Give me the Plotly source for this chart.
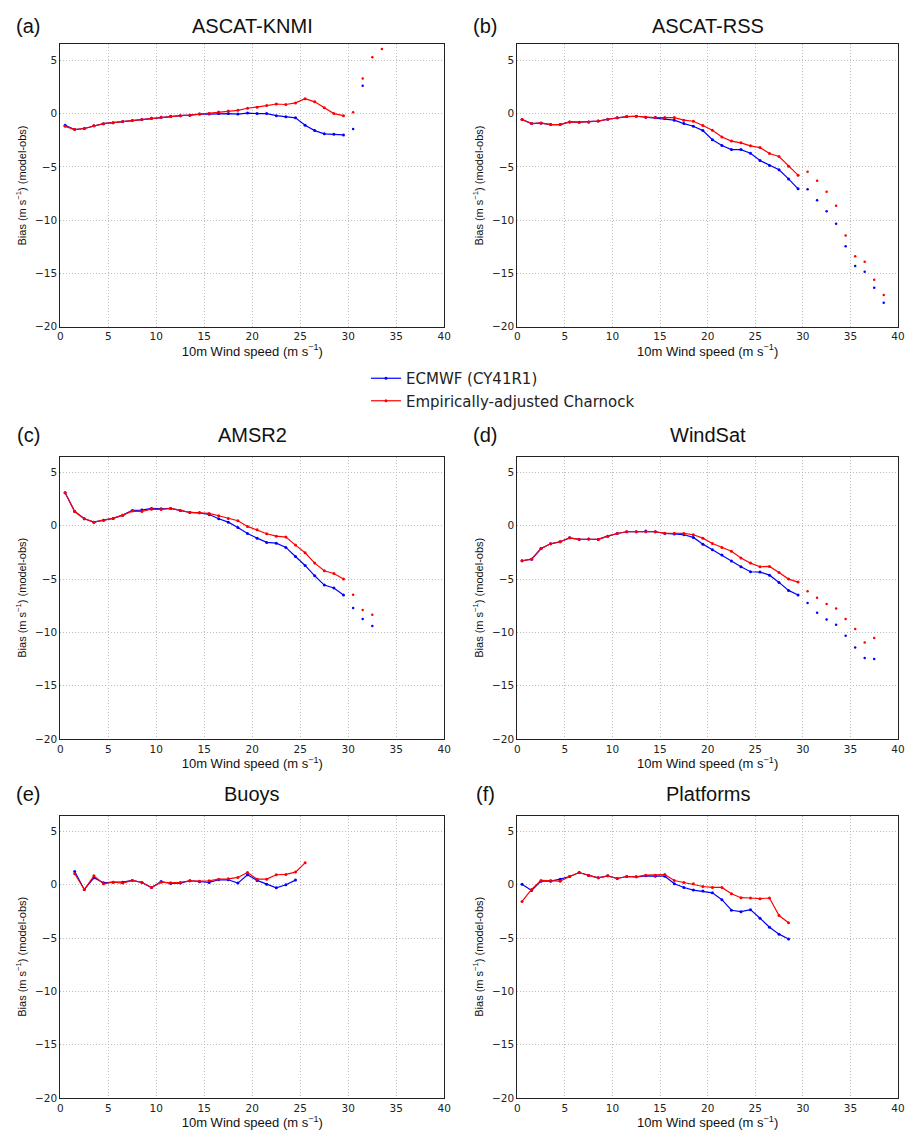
import plotly.graph_objects as go

# ---------------- data ----------------
wind_bins = [0.5, 1.5, 2.5, 3.5, 4.5, 5.5, 6.5, 7.5, 8.5, 9.5, 10.5, 11.5, 12.5, 13.5, 14.5,
             15.5, 16.5, 17.5, 18.5, 19.5, 20.5, 21.5, 22.5, 23.5, 24.5, 25.5, 26.5, 27.5, 28.5, 29.5]
wind_buoys = [1.5, 2.5, 3.5, 4.5, 5.5, 6.5, 7.5, 8.5, 9.5, 10.5, 11.5, 12.5, 13.5, 14.5,
              15.5, 16.5, 17.5, 18.5, 19.5, 20.5, 21.5, 22.5, 23.5, 24.5, 25.5]
wind_platforms = [0.5, 1.5, 2.5, 3.5, 4.5, 5.5, 6.5, 7.5, 8.5, 9.5, 10.5, 11.5, 12.5, 13.5, 14.5,
                  15.5, 16.5, 17.5, 18.5, 19.5, 20.5, 21.5, 22.5, 23.5, 24.5, 25.5, 26.5, 27.5, 28.5]

# (a) ASCAT-KNMI
knmi_ecmwf = [-1.1, -1.5, -1.4, -1.15, -0.95, -0.85, -0.75, -0.65, -0.55, -0.45, -0.35, -0.25, -0.2, -0.15,
              -0.05, -0.05, 0.0, 0.0, -0.05, 0.05, 0.0, 0.0, -0.2, -0.3, -0.4, -1.1, -1.6, -1.9, -1.95, -2.0]
knmi_charnock = [-1.2, -1.5, -1.4, -1.15, -0.95, -0.85, -0.75, -0.65, -0.55, -0.45, -0.35, -0.25, -0.2, -0.15,
                 -0.05, 0.0, 0.15, 0.25, 0.3, 0.5, 0.6, 0.75, 0.9, 0.85, 1.0, 1.4, 1.1, 0.55, 0.0, -0.2]
knmi_ecmwf_hi_x = [30.5, 31.5]
knmi_ecmwf_hi_y = [-1.45, 2.6]
knmi_charnock_hi_x = [30.5, 31.5, 32.5, 33.5]
knmi_charnock_hi_y = [0.12, 3.28, 5.28, 6.05]

# (b) ASCAT-RSS
rss_ecmwf = [-0.56, -0.94, -0.9, -1.03, -1.03, -0.78, -0.81, -0.78, -0.7, -0.53, -0.4, -0.28, -0.25, -0.34,
             -0.38, -0.47, -0.62, -0.94, -1.19, -1.6, -2.45, -3.0, -3.38, -3.38, -3.72, -4.41, -4.88, -5.28, -6.13, -7.06]
rss_charnock = [-0.56, -0.94, -0.88, -1.03, -1.03, -0.78, -0.81, -0.78, -0.7, -0.53, -0.4, -0.28, -0.25, -0.34,
                -0.38, -0.38, -0.38, -0.62, -0.72, -1.12, -1.56, -2.2, -2.58, -2.75, -3.03, -3.19, -3.75, -4.03, -4.94, -5.78]
rss_hi_x = [30.5, 31.5, 32.5, 33.5, 34.5, 35.5, 36.5, 37.5, 38.5]
rss_ecmwf_hi_y = [-7.1, -8.13, -9.16, -10.34, -12.44, -14.3, -14.84, -16.34, -17.75]
rss_charnock_hi_y = [-5.47, -6.3, -7.34, -8.65, -11.44, -13.4, -13.9, -15.6, -17.03]

# (c) AMSR2
amsr_ecmwf = [3.1, 1.34, 0.66, 0.34, 0.53, 0.69, 1.0, 1.44, 1.47, 1.63, 1.6, 1.63, 1.44, 1.25,
              1.22, 1.06, 0.66, 0.34, -0.16, -0.72, -1.16, -1.56, -1.63, -2.03, -2.88, -3.72, -4.69, -5.56, -5.84, -6.5]
amsr_charnock = [3.1, 1.34, 0.66, 0.34, 0.53, 0.69, 1.0, 1.38, 1.34, 1.56, 1.53, 1.63, 1.44, 1.25,
                 1.22, 1.16, 0.94, 0.69, 0.47, -0.06, -0.38, -0.75, -0.97, -1.06, -1.81, -2.53, -3.5, -4.22, -4.47, -5.0]
amsr_ecmwf_hi_x = [30.5, 31.5, 32.5]
amsr_ecmwf_hi_y = [-7.72, -8.75, -9.4]
amsr_charnock_hi_x = [30.5, 31.5, 32.5]
amsr_charnock_hi_y = [-6.47, -7.9, -8.34]

# (d) WindSat
windsat_ecmwf = [-3.28, -3.13, -2.13, -1.69, -1.5, -1.13, -1.28, -1.25, -1.28, -0.97, -0.72, -0.56, -0.56, -0.5,
                 -0.56, -0.72, -0.78, -0.84, -1.09, -1.72, -2.25, -2.75, -3.31, -3.84, -4.31, -4.34, -4.63, -5.31, -6.06, -6.5]
windsat_charnock = [-3.28, -3.13, -2.13, -1.69, -1.5, -1.13, -1.28, -1.25, -1.28, -0.97, -0.72, -0.56, -0.56, -0.56,
                    -0.56, -0.69, -0.69, -0.72, -0.84, -1.16, -1.66, -2.03, -2.38, -3.03, -3.5, -3.84, -3.81, -4.38, -5.0, -5.28]
windsat_hi_x = [30.5, 31.5, 32.5, 33.5, 34.5, 35.5, 36.5, 37.5]
windsat_ecmwf_hi_y = [-7.25, -8.16, -8.78, -9.28, -10.31, -11.41, -12.41, -12.5]
windsat_charnock_hi_y = [-6.13, -6.75, -7.34, -7.75, -8.75, -9.69, -10.94, -10.53]

# (e) Buoys
buoys_ecmwf = [1.25, -0.44, 0.66, 0.19, 0.25, 0.25, 0.41, 0.22, -0.25, 0.3, 0.12, 0.16, 0.38, 0.28,
               0.22, 0.47, 0.47, 0.16, 0.94, 0.41, 0.06, -0.28, 0.0, 0.44]
buoys_charnock = [1.03, -0.44, 0.84, 0.09, 0.25, 0.16, 0.41, 0.22, -0.25, 0.25, 0.19, 0.22, 0.38, 0.34,
                  0.38, 0.53, 0.56, 0.69, 1.16, 0.53, 0.53, 0.94, 0.97, 1.19, 2.06]

# (f) Platforms
platforms_ecmwf = [0.06, -0.53, 0.34, 0.34, 0.53, 0.78, 1.15, 0.87, 0.65, 0.84, 0.59, 0.78, 0.75, 0.84,
                   0.81, 0.81, 0.09, -0.25, -0.5, -0.59, -0.75, -1.4, -2.39, -2.52, -2.33, -3.14, -3.98, -4.63, -5.09]
platforms_charnock = [-1.56, -0.44, 0.41, 0.41, 0.34, 0.78, 1.15, 0.87, 0.65, 0.84, 0.59, 0.78, 0.75, 0.9,
                      0.9, 0.96, 0.4, 0.22, 0.09, -0.16, -0.25, -0.25, -0.84, -1.21, -1.24, -1.3, -1.24, -2.89, -3.57]

panel_letters = ["(a)", "(b)", "(c)", "(d)", "(e)", "(f)"]
panel_titles = ["ASCAT-KNMI", "ASCAT-RSS", "AMSR2", "WindSat", "Buoys", "Platforms"]
series_names = ["ECMWF (CY41R1)", "Empirically-adjusted Charnock"]
x_ticks = [0, 5, 10, 15, 20, 25, 30, 35, 40]
y_ticks = [-20, -15, -10, -5, 0, 5]

panels = [
    dict(xl=wind_bins, e=knmi_ecmwf, c=knmi_charnock,
         ehx=knmi_ecmwf_hi_x, ehy=knmi_ecmwf_hi_y, chx=knmi_charnock_hi_x, chy=knmi_charnock_hi_y),
    dict(xl=wind_bins, e=rss_ecmwf, c=rss_charnock,
         ehx=rss_hi_x, ehy=rss_ecmwf_hi_y, chx=rss_hi_x, chy=rss_charnock_hi_y),
    dict(xl=wind_bins, e=amsr_ecmwf, c=amsr_charnock,
         ehx=amsr_ecmwf_hi_x, ehy=amsr_ecmwf_hi_y, chx=amsr_charnock_hi_x, chy=amsr_charnock_hi_y),
    dict(xl=wind_bins, e=windsat_ecmwf, c=windsat_charnock,
         ehx=windsat_hi_x, ehy=windsat_ecmwf_hi_y, chx=windsat_hi_x, chy=windsat_charnock_hi_y),
    dict(xl=wind_buoys, xle=wind_buoys[:-1], e=buoys_ecmwf, c=buoys_charnock,
         ehx=[], ehy=[], chx=[], chy=[]),
    dict(xl=wind_platforms, e=platforms_ecmwf, c=platforms_charnock,
         ehx=[], ehy=[], chx=[], chy=[]),
]

# ---------------- layout geometry (pixels) ----------------
W, H = 907, 1131
col_px = [(60.3, 444.3), (517.3, 898.0)]
row_px = [(44.3, 326.7), (456.5, 739.0), (815.5, 1098.0)]

BLUE = "#0000ff"
RED = "#ff0000"
TICK_FONT = dict(family="DejaVu Sans", size=10.5, color="#222222")
LABEL_FONT = "Liberation Sans, Arial, sans-serif"

fig = go.Figure()
layout = dict(
    width=W, height=H,
    margin=dict(l=0, r=0, t=0, b=0, autoexpand=False),
    paper_bgcolor="white", plot_bgcolor="white",
    showlegend=True,
    legend=dict(x=366 / W, y=1 - 362 / H, xanchor="left", yanchor="top",
                font=dict(family="DejaVu Sans", size=15, color="#222222"),
                bgcolor="rgba(0,0,0,0)", itemwidth=30, tracegroupgap=0),
)
annotations = []

for i, p in enumerate(panels):
    r, c = divmod(i, 2)
    ax = "" if i == 0 else str(i + 1)
    xref, yref = "x" + ax, "y" + ax
    x0, x1 = col_px[c]
    y0, y1 = row_px[r]
    xe = p.get("xle", p["xl"])
    fig.add_trace(go.Scatter(x=xe, y=p["e"], mode="lines+markers", name=series_names[0],
                             line=dict(color=BLUE, width=1.2), marker=dict(size=3, color=BLUE),
                             xaxis=xref, yaxis=yref, showlegend=(i == 0), legendgroup="e"))
    fig.add_trace(go.Scatter(x=p["xl"], y=p["c"], mode="lines+markers", name=series_names[1],
                             line=dict(color=RED, width=1.2), marker=dict(size=3, color=RED),
                             xaxis=xref, yaxis=yref, showlegend=(i == 0), legendgroup="c"))
    if p["ehx"]:
        fig.add_trace(go.Scatter(x=p["ehx"], y=p["ehy"], mode="markers", name=series_names[0],
                                 marker=dict(size=2.5, color=BLUE), xaxis=xref, yaxis=yref,
                                 showlegend=False, legendgroup="e"))
    if p["chx"]:
        fig.add_trace(go.Scatter(x=p["chx"], y=p["chy"], mode="markers", name=series_names[1],
                                 marker=dict(size=2.5, color=RED), xaxis=xref, yaxis=yref,
                                 showlegend=False, legendgroup="c"))

    axis_common = dict(showline=True, linecolor="#222222", linewidth=1, mirror=True,
                       showgrid=True, gridcolor="#bdbdbd", griddash="1px,2px", gridwidth=1,
                       zeroline=False, ticks="", tickfont=TICK_FONT, automargin=False,
                       ticklabeloverflow="allow")
    layout["xaxis" + ax] = dict(axis_common, domain=[x0 / W, x1 / W], range=[0, 40],
                                tickvals=x_ticks, anchor=yref,
                                title=dict(text="10m Wind speed (m s<sup>−1</sup>)", standoff=4,
                                           font=dict(family=LABEL_FONT, size=13, color="#111111")))
    layout["yaxis" + ax] = dict(axis_common, domain=[1 - y1 / H, 1 - y0 / H], range=[-20, 6.5],
                                tickvals=y_ticks, anchor=xref,
                                title=dict(text="Bias (m s<sup>−1</sup>) (model-obs)", standoff=6,
                                           font=dict(family=LABEL_FONT, size=11, color="#111111")))
    title_y = y0 - (18 if r == 0 else 22)
    annotations.append(dict(text=panel_letters[i], x=(x0 - 32) / W, y=1 - title_y / H,
                            xref="paper", yref="paper", xanchor="center", yanchor="middle",
                            showarrow=False, font=dict(family=LABEL_FONT, size=20, color="#111111")))
    annotations.append(dict(text=panel_titles[i], x=(x0 + x1) / 2 / W, y=1 - title_y / H,
                            xref="paper", yref="paper", xanchor="center", yanchor="middle",
                            showarrow=False, font=dict(family=LABEL_FONT, size=20, color="#111111")))

layout["annotations"] = annotations
fig.update_layout(**layout)
fig.write_html("out.html", config={"displayModeBar": False},
               post_script="document.body.style.margin='0';document.body.style.overflow='hidden';")
